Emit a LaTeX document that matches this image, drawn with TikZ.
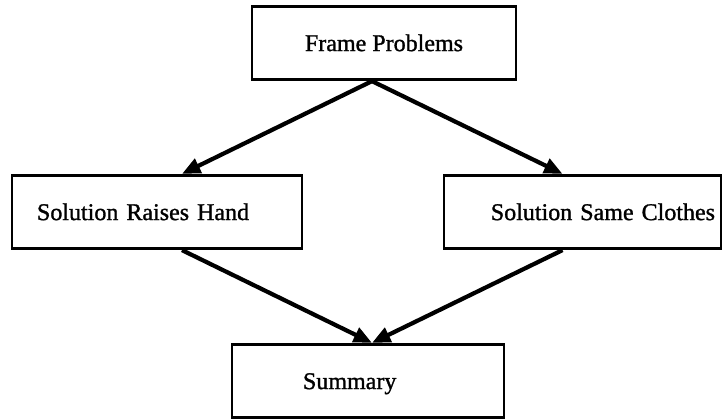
\documentclass[tikz,border=0pt]{standalone}
\usepackage{fontspec}
\setmainfont{Liberation Serif}[BoldFeatures={FakeBold=1.2}, BoldFont=Liberation Serif]
\usetikzlibrary{arrows.meta, positioning}
\tikzstyle{arrow} = [line width=3.6pt,-{Triangle[length=0.55cm,width=0.46cm]}]
\tikzstyle{topic} = [rectangle, line width=2.5pt, minimum height=2.2cm, text height=1.6em, text depth=0.22em, draw=black, font=\fontsize{20.5}{24}\selectfont\bfseries]

\begin{document}
\begin{tikzpicture}[node distance=5.07cm]
\useasboundingbox (0,0) rectangle (21.69,-12.57);
% Placement of nodes
\node (frame) [topic, minimum width=7.92cm] at (11.52,-1.29) {Frame Problems};
\node (raises) [topic, below of=frame, xshift=-6.81cm, inner xsep=0.75cm, text width=7.2cm, align=left] {Solution Raises Hand};
\node (clothes) [topic, below of=frame, xshift=5.955cm, inner xsep=0.18cm, text width=7.95cm, align=right] {Solution Same Clothes};
\node (summary) [topic, below of=raises, xshift=6.33cm, inner xsep=2.13cm, text width=3.9cm, align=left] {Summary};

% Placement of edges
\draw [arrow] ([xshift=-0.36cm]frame.south) -- ([xshift=0.75cm]raises.north);
\draw [arrow] ([xshift=-0.36cm]frame.south) -- ([xshift=-0.6cm]clothes.north);
\draw [arrow] ([xshift=0.75cm]raises.south) -- ([xshift=0.12cm]summary.north);
\draw [arrow] ([xshift=-0.6cm]clothes.south) -- ([xshift=0.12cm]summary.north);

\end{tikzpicture}
\end{document}
